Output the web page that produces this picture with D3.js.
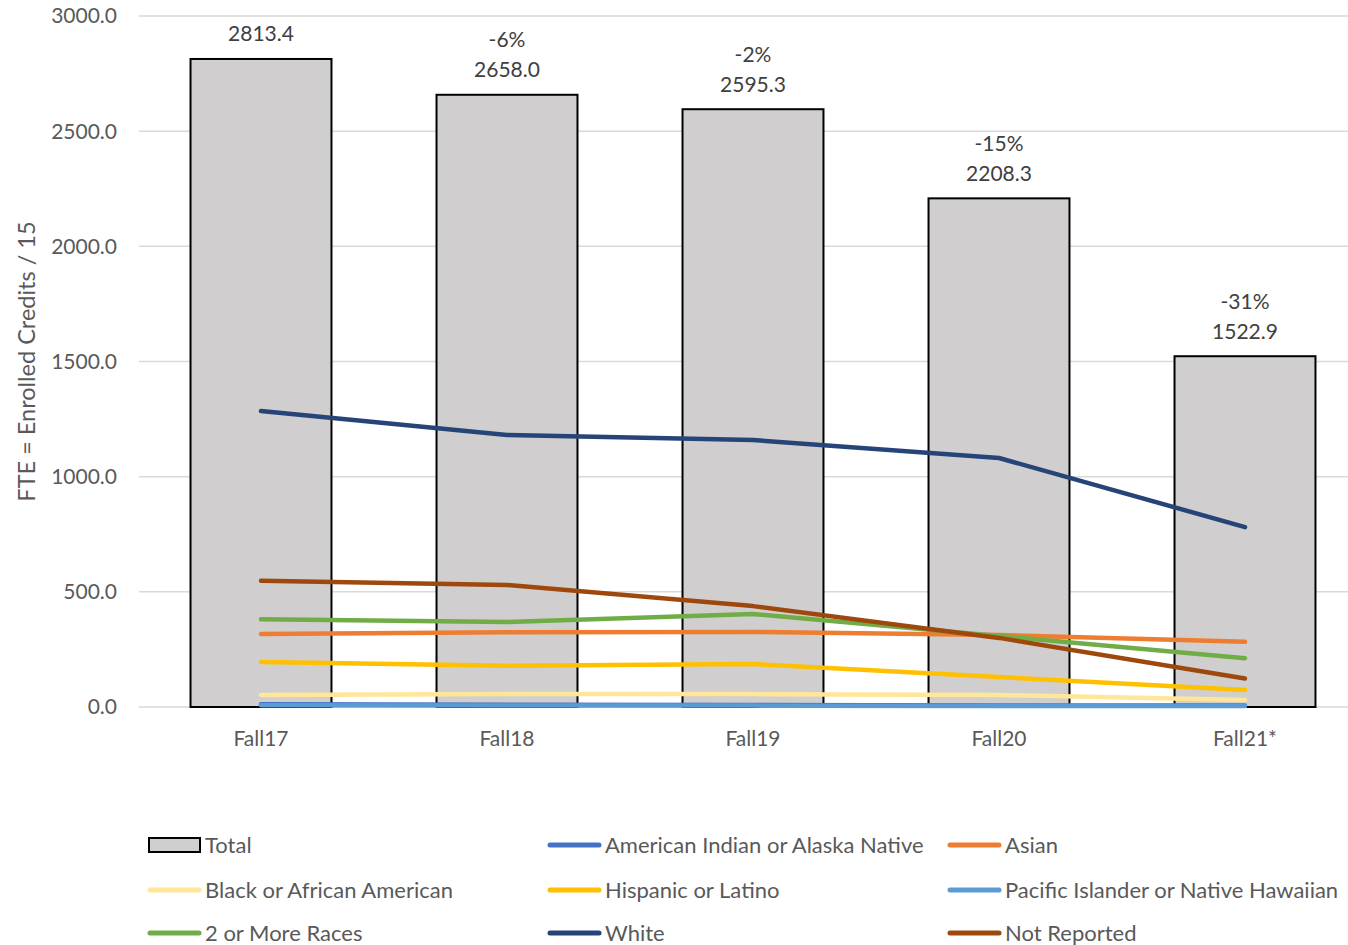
<!DOCTYPE html>
<html><head><meta charset="utf-8">
<script src="https://cdn.jsdelivr.net/npm/d3@7"></script>
<style>body{margin:0;background:#fff;} text{font-family:Lato,"Open Sans",sans-serif;fill:#595959;}</style>
</head><body><svg id="c" width="1348" height="945"></svg>
<script>
const categories = ["Fall17","Fall18","Fall19","Fall20","Fall21*"];
const totals = [2813.4, 2658.0, 2595.3, 2208.3, 1522.9];
const changeLabels = ["", "-6%", "-2%", "-15%", "-31%"];
const yTicks = [0, 500, 1000, 1500, 2000, 2500, 3000];
const seriesNames = ["American Indian or Alaska Native","Asian","Black or African American","Hispanic or Latino","Pacific Islander or Native Hawaiian","2 or More Races","White","Not Reported"];
const seriesColors = ["#4472c4","#ed7d31","#ffe699","#ffc000","#5b9bd5","#70ad47","#264478","#9e480e"];
const amIndian = [12, 10, 9, 7, 6];
const asian = [317, 325, 326, 313, 283];
const black = [52, 56, 56, 52, 30];
const hispanic = [195, 179, 187, 130, 74];
const pacific = [8, 6, 6, 4, 4];
const twoPlus = [381, 369, 404, 308, 212];
const white = [1285, 1181, 1159, 1081, 781];
const notReported = [548, 530, 438, 300, 124];
const seriesValues = [amIndian, asian, black, hispanic, pacific, twoPlus, white, notReported];

const svg = d3.select("#c");
const x = d3.scaleBand().domain(categories).range([138, 1368]).paddingInner(0.427).paddingOuter(0.2135);
const y = d3.scaleLinear().domain([0, 3000]).range([707, 16]);

// gridlines
svg.append("g").selectAll("line").data(yTicks).join("line")
  .attr("x1", 139).attr("x2", 1348).attr("y1", d => y(d)).attr("y2", d => y(d))
  .attr("stroke", "#d9d9d9").attr("stroke-width", 1.5);

// y tick labels
svg.append("g").selectAll("text").data(yTicks).join("text")
  .attr("x", 117).attr("y", d => y(d)).attr("dy", "0.35em").attr("text-anchor", "end")
  .style("font-size", "21px").text(d => d3.format(".1f")(d));

// y title
svg.append("text").attr("transform", `translate(35,${(y(0)+y(3000))/2}) rotate(-90)`)
  .attr("text-anchor", "middle").style("font-size", "23.5px").text("FTE = Enrolled Credits / 15");

// bars
svg.append("g").selectAll("rect").data(totals).join("rect")
  .attr("x", (d,i) => x(categories[i])).attr("width", x.bandwidth())
  .attr("y", d => y(d)).attr("height", d => y(0) - y(d))
  .attr("fill", "#d0cece").attr("stroke", "#000").attr("stroke-width", 2);

// bar labels
const lbl = svg.append("g");
totals.forEach((d,i) => {
  const cx = x(categories[i]) + x.bandwidth()/2;
  lbl.append("text").attr("x", cx).attr("y", y(d) - 25).attr("dy","0.35em").attr("text-anchor","middle")
    .style("font-size","21px").style("fill","#404040").text(d3.format(".1f")(d));
  if (changeLabels[i]) lbl.append("text").attr("x", cx).attr("y", y(d) - 55).attr("dy","0.35em").attr("text-anchor","middle")
    .style("font-size","21px").style("fill","#404040").text(changeLabels[i]);
});

// x labels
svg.append("g").selectAll("text").data(categories).join("text")
  .attr("x", d => x(d) + x.bandwidth()/2).attr("y", 739).attr("dy","0.35em").attr("text-anchor","middle")
  .style("font-size","21px").text(d => d);

// lines
const line = d3.line().x((d,i) => x(categories[i]) + x.bandwidth()/2).y(d => y(d));
svg.append("g").selectAll("path").data(seriesValues).join("path")
  .attr("d", d => line(d)).attr("fill","none")
  .attr("stroke", (d,i) => seriesColors[i]).attr("stroke-width", 4.5)
  .attr("stroke-linecap","round").attr("stroke-linejoin","round");

// legend
const legendItems = [{name:"Total", type:"bar"}].concat(seriesNames.map((n,i) => ({name:n, type:"line", color:seriesColors[i]})));
const colX = [148, 548, 948];
const rowY = [845, 890, 933];
const lg = svg.append("g");
legendItems.forEach((it, k) => {
  const cx = colX[k % 3], cy = rowY[Math.floor(k / 3)];
  if (it.type === "bar") {
    lg.append("rect").attr("x", cx + 1).attr("y", cy - 7).attr("width", 51).attr("height", 14)
      .attr("fill", "#d0cece").attr("stroke", "#000").attr("stroke-width", 2);
  } else {
    lg.append("line").attr("x1", cx + 2).attr("x2", cx + 51).attr("y1", cy).attr("y2", cy)
      .attr("stroke", it.color).attr("stroke-width", 5).attr("stroke-linecap","round");
  }
  lg.append("text").attr("x", cx + 57).attr("y", cy).attr("dy","0.35em").style("font-size","22px").text(it.name);
});
</script></body></html>
